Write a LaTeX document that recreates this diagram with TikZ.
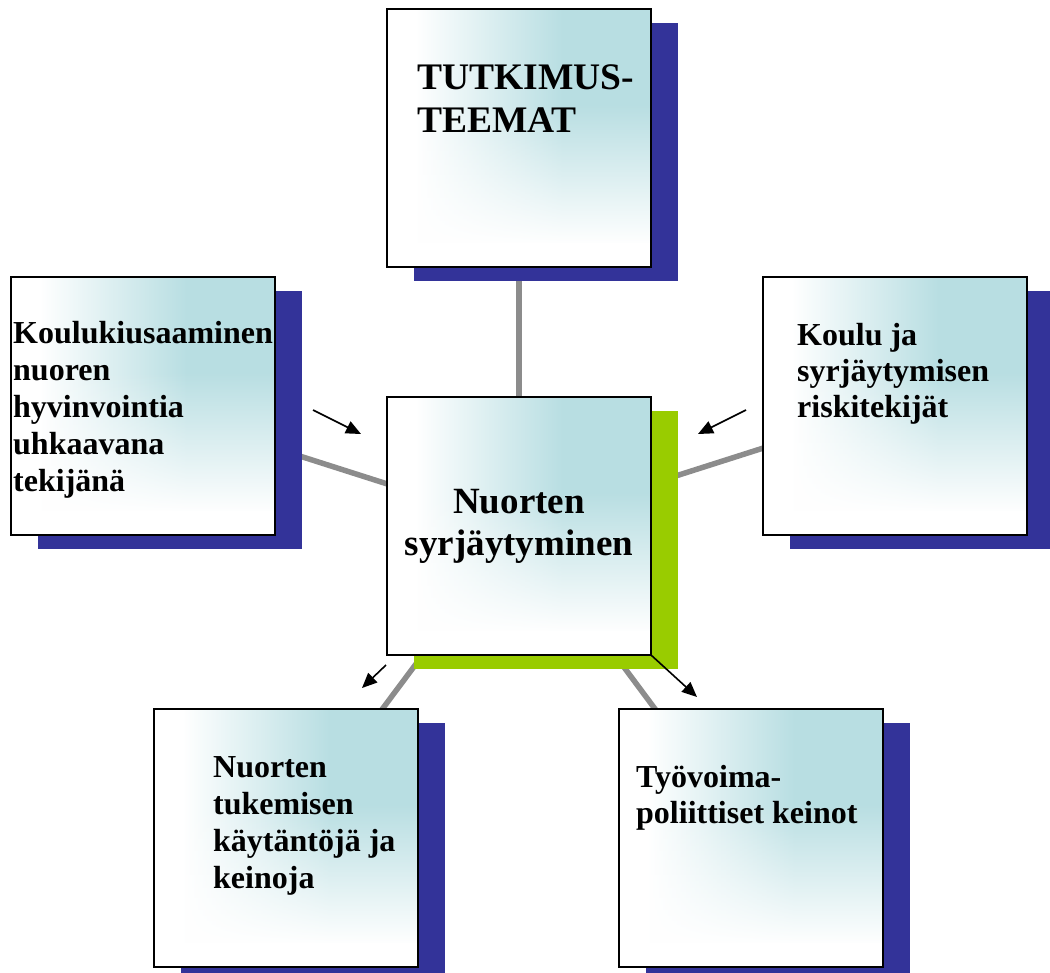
\documentclass[tikz,border=0pt]{standalone}
\usepackage{fontspec}
\setmainfont{Liberation Serif}
\usetikzlibrary{arrows.meta,fadings}
\definecolor{glowteal}{RGB}{184,222,226}
\definecolor{shadowblue}{RGB}{51,51,153}
\definecolor{shadowgreen}{RGB}{153,204,0}
\definecolor{linkgray}{RGB}{140,140,140}
\tikzfading[name=vfade, top color=transparent!100, bottom color=transparent!0]
\pgfdeclarelayer{bg}
\pgfdeclarelayer{mid}
\pgfsetlayers{bg,mid,main}
\tikzset{
  box/.style={draw=black, line width=1.5bp, fill=white, minimum width=264bp, minimum height=258bp,
    inner sep=0pt, outer sep=0pt, anchor=north west,
    path picture={
      \fill[glowteal] ([shift={(175,0)}]path picture bounding box.north west) rectangle (path picture bounding box.south east);
      \shade[left color=white, right color=glowteal] ([shift={(28,0)}]path picture bounding box.north west) rectangle ([shift={(176,260)}]path picture bounding box.north west);
      \fill[white, path fading=vfade] ([shift={(0,95)}]path picture bounding box.north west) rectangle ([shift={(266,235)}]path picture bounding box.north west);
      \fill[white] ([shift={(0,234)}]path picture bounding box.north west) rectangle (path picture bounding box.south east);
    }},
  link/.style={draw=linkgray, line width=5.5bp},
  pointer/.style={draw=black, line width=1.6bp, -{Triangle[length=15bp,width=13bp]}},
  boxtext/.style={anchor=base west, align=left, inner sep=0pt, font=\bfseries\fontsize{32bp}{36.8bp}\selectfont},
  bigtext/.style={inner sep=0pt, font=\bfseries\fontsize{37.5bp}{43bp}\selectfont},
  blueshadow/.style={fill=shadowblue},
  greenshadow/.style={fill=shadowgreen}
}
\begin{document}
\begin{tikzpicture}[x=1bp, y=-1bp]
\useasboundingbox (0,0) rectangle (1050,973);
\begin{pgfonlayer}{bg}
  \fill[white] (0,0) rectangle (1050,973);
\end{pgfonlayer}

% boxes
\node[box] (top) at (387,9) {};
\node[box] (left) at (11,277) {};
\node[box] (right) at (763,277) {};
\node[box] (center) at (387,397) {};
\node[box] (bl) at (154,709) {};
\node[box] (br) at (619,709) {};

% shadows
\begin{pgfonlayer}{mid}
  \foreach \b in {top,left,right,bl,br}{
    \fill[blueshadow] ([shift={(27,14)}]\b.north west) rectangle ([shift={(27,14)}]\b.south east);
  }
  \fill[greenshadow] ([shift={(27,14)}]center.north west) rectangle ([shift={(27,14)}]center.south east);
\end{pgfonlayer}

% connectors
\begin{pgfonlayer}{bg}
  \draw[link] (center.center) -- (top.center);
  \draw[link] (center.center) -- (left.center);
  \draw[link] (center.center) -- (right.center);
  \draw[link] (center.center) -- (bl.center);
  \draw[link] (center.center) -- (br.center);
\end{pgfonlayer}

% texts (anchored at the baseline of the last line)
\node[bigtext, anchor=base west, align=left] (ttop) at (417,132) {TUTKIMUS-\\TEEMAT};
\node[boxtext] (tleft) at (13,491) {Koulukiusaaminen\\nuoren\\hyvinvointia\\uhkaavana\\tekijänä};
\node[boxtext, font=\bfseries\fontsize{32bp}{36bp}\selectfont] (tright) at (797,417) {Koulu ja\\syrjäytymisen\\riskitekijät};
\node[inner sep=0pt, anchor=base, align=center, font=\bfseries\fontsize{37bp}{42bp}\selectfont] (tcenter) at (519,555) {Nuorten\\syrjäytyminen};
\node[boxtext] (tbl) at (213,888) {Nuorten\\tukemisen\\käytäntöjä ja\\keinoja};
\node[boxtext, font=\bfseries\fontsize{32bp}{36bp}\selectfont] (tbr) at (636,823) {Työvoima-\\poliittiset keinot};

% arrows
\coordinate (p1s) at (313,410);
\coordinate (p1e) at (361,434);
\coordinate (p2s) at (746,410);
\coordinate (p2e) at (698,434);
\coordinate (p3s) at (386,665);
\coordinate (p3e) at (362,688);
\coordinate (p4e) at (697,697);
\draw[pointer] (p1s) -- (p1e);
\draw[pointer] (p2s) -- (p2e);
\draw[pointer] (p3s) -- (p3e);
\draw[pointer] (center.south east) -- (p4e);
\end{tikzpicture}
\end{document}
